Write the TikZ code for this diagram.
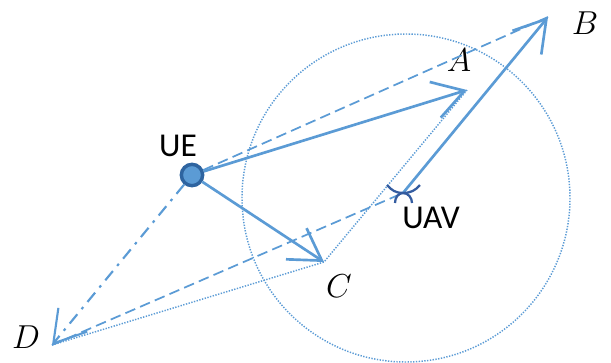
\documentclass[tikz,border=0pt]{standalone}
\usepackage{fontspec}
\setsansfont{Carlito}
\usepackage{tikz}
\usetikzlibrary{arrows.meta}
\definecolor{lineblue}{RGB}{91,155,213}
\definecolor{uedark}{RGB}{46,100,160}
\definecolor{uavblue}{RGB}{52,92,160}

\begin{document}
\begin{tikzpicture}[x=0.75pt, y=-0.75pt,
  ln/.style={draw=lineblue, line width=2pt},
  arr/.style={ln, -{Straight Barb[length=23pt, width=28pt]}},
  dsh/.style={draw=lineblue, line width=1.3pt, dash pattern=on 8pt off 4pt},
  dtt/.style={draw=lineblue, line width=1.1pt, dash pattern=on 1pt off 1.1pt},
  ddot/.style={draw=lineblue, line width=1.6pt, dash pattern=on 9pt off 5pt on 2pt off 5pt},
  ue/.style={circle, fill=lineblue, draw=uedark, line width=2.6pt, minimum size=16pt, inner sep=0pt},
  sf/.style={font=\sffamily\fontsize{25}{30}\selectfont},
  mt/.style={font=\fontsize{28}{32}\selectfont}]
\useasboundingbox (0,0) rectangle (611,362);
\node[ue] (ue) at (192,175) {};
\coordinate (uav) at (403,193);
\coordinate (a) at (467,90);
\coordinate (b) at (548,17);
\coordinate (c) at (324,262);
\coordinate (d) at (52,345);
% coverage circle
\draw[dtt] (406,198) circle (164);
% labels
\node[sf] (uel) at (178,146) {UE};
\node[sf] (uavl) at (431,218) {UAV};
\node[mt] (al) at (459,60) {$A$};
\node[mt] (bl) at (585,23) {$B$};
\node[mt] (cl) at (339,286) {$C$};
\node[mt] (dl) at (26,337) {$D$};
% connectors
\draw[dsh] (ue) -- (b);
\draw[dsh] (d) -- (uav);
\draw[dtt] (d) -- (c) -- (a);
\draw[ddot, -{Straight Barb[length=23pt, width=28pt]}] (ue) -- (d);
\draw[arr] (ue) -- (a);
\draw[arr] (ue) -- (c);
\draw[arr] (uav) -- (b);
% uav symbol
\draw[uavblue, line width=1.7pt] (387,185) to[out=-50, in=180] (uav) to[out=0, in=230] (420,185);
\draw[uavblue, line width=1.7pt] (395,203) to[out=90, in=180] (uav) to[out=0, in=90] (412,203);
\end{tikzpicture}
\end{document}
